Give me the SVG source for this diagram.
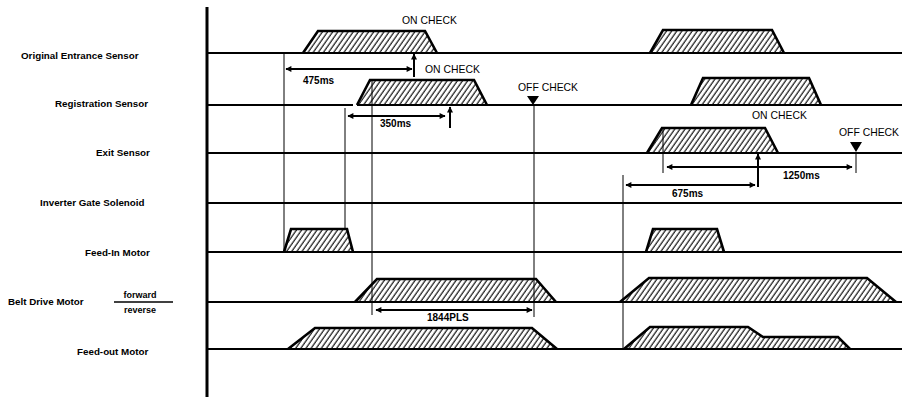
<svg xmlns="http://www.w3.org/2000/svg" width="902" height="397" viewBox="0 0 902 397">
<style>
.lbl{font-family:"Liberation Sans",Arial,sans-serif;font-size:9.8px;font-weight:bold;fill:#000}
.sm{font-family:"Liberation Sans",Arial,sans-serif;font-size:9px;font-weight:bold;fill:#000}
.chk{font-family:"Liberation Sans",Arial,sans-serif;font-size:10.4px;fill:#000}
.ms{font-family:"Liberation Sans",Arial,sans-serif;font-size:10px;font-weight:bold;fill:#000}
.base{stroke:#000;stroke-width:2;fill:none}
.hat{fill:url(#hatch);stroke:none}
.edge{stroke:#000;stroke-width:2.6;fill:none;stroke-linejoin:miter}
.thin{stroke:#000;stroke-width:1;fill:none}
.arr{stroke:#000;stroke-width:2;fill:none}
</style>
<defs>
<pattern id="hatch" width="4.2" height="10" patternUnits="userSpaceOnUse" patternTransform="rotate(35)">
<line x1="1" y1="0" x2="1" y2="10" stroke="#000" stroke-width="1.1"/>
</pattern>
<marker id="ah" viewBox="0 0 10 10" refX="9" refY="5" markerWidth="8" markerHeight="6" markerUnits="userSpaceOnUse" orient="auto-start-reverse">
<path d="M0,0 L10,5 L0,10 Z" fill="#000"/>
</marker>
</defs>
<rect width="902" height="397" fill="#fff"/>
<line x1="207" y1="7" x2="207" y2="397" stroke="#000" stroke-width="3"/>

<g id="original-entrance-sensor">
<text class="lbl" x="21" y="59">Original Entrance Sensor</text>
<polygon class="hat" points="303,53 318,31 425,31 437,53"/>
<polygon class="hat" points="650,53 663,30 772,30 784,53"/>
<line class="base" x1="207" y1="53" x2="902" y2="53"/>
<polyline class="edge" points="303,53 318,31 425,31 437,53"/>
<polyline class="edge" points="650,53 663,30 772,30 784,53"/>
</g>

<g id="registration-sensor">
<text class="lbl" x="55" y="107">Registration Sensor</text>
<polygon class="hat" points="357,105 370,80 474,80 487,105"/>
<polygon class="hat" points="691,105 703,78 809,78 821,105"/>
<line class="base" x1="207" y1="105" x2="353" y2="105"/>
<line class="base" x1="357" y1="105" x2="902" y2="105"/>
<polyline class="edge" points="357,105 370,80 474,80 487,105"/>
<polyline class="edge" points="691,105 703,78 809,78 821,105"/>
</g>

<g id="exit-sensor">
<text class="lbl" x="96" y="156">Exit Sensor</text>
<polygon class="hat" points="647,153 662,128 765,128 778,153"/>
<line class="base" x1="207" y1="153" x2="902" y2="153"/>
<polyline class="edge" points="647,153 662,128 765,128 778,153"/>
</g>

<g id="inverter-gate-solenoid">
<text class="lbl" x="40" y="206">Inverter Gate Solenoid</text>
<line class="base" x1="207" y1="203" x2="902" y2="203"/>
</g>

<g id="feed-in-motor">
<text class="lbl" x="85" y="256">Feed-In Motor</text>
<polygon class="hat" points="284,252 291,229 347,229 353,252"/>
<polygon class="hat" points="646,252 653,229 717,229 724,252"/>
<line class="base" x1="207" y1="252" x2="902" y2="252"/>
<polyline class="edge" points="284,252 291,229 347,229 353,252"/>
<polyline class="edge" points="646,252 653,229 717,229 724,252"/>
</g>

<g id="belt-drive-motor">
<text class="lbl" x="8" y="305">Belt Drive Motor</text>
<text class="sm" x="140" y="298" text-anchor="middle">forward</text>
<line x1="114" y1="302" x2="173" y2="302" stroke="#000" stroke-width="1.5"/>
<text class="sm" x="140" y="313" text-anchor="middle">reverse</text>
<polygon class="hat" points="355,302 377,279 536,279 556,302"/>
<polygon class="hat" points="620,302 649,278 867,278 896,302"/>
<line class="base" x1="207" y1="302" x2="902" y2="302"/>
<polyline class="edge" points="355,302 377,279 536,279 556,302"/>
<polyline class="edge" points="620,302 649,278 867,278 896,302"/>
</g>

<g id="feed-out-motor">
<text class="lbl" x="77" y="355">Feed-out Motor</text>
<polygon class="hat" points="288,349 315,328 532,328 557,349"/>
<polygon class="hat" points="624,349 650,327 748,327 763,337 838,337 850,349"/>
<line class="base" x1="207" y1="349" x2="902" y2="349"/>
<polyline class="edge" points="288,349 315,328 532,328 557,349"/>
<polyline class="edge" points="624,349 650,327 748,327 763,337 838,337 850,349"/>
</g>

<g id="connectors">
<line class="thin" x1="284" y1="53" x2="284" y2="252"/>
<line class="thin" x1="345" y1="108" x2="345" y2="230"/>
<line class="thin" x1="372" y1="80" x2="372" y2="315"/>
<line class="thin" x1="534" y1="105" x2="534" y2="317"/>
<line class="thin" x1="623" y1="175" x2="623" y2="350"/>
<line class="thin" x1="663" y1="128" x2="663" y2="173"/>
<line class="thin" x1="856" y1="152" x2="856" y2="173"/>

<line class="arr" x1="286" y1="69" x2="412" y2="69" marker-start="url(#ah)" marker-end="url(#ah)"/>
<line class="arr" x1="414" y1="77" x2="414" y2="54" marker-end="url(#ah)"/>
<line class="arr" x1="348" y1="116" x2="445" y2="116" marker-start="url(#ah)" marker-end="url(#ah)"/>
<line class="arr" x1="450" y1="128" x2="450" y2="107" marker-end="url(#ah)"/>
<line class="arr" x1="376" y1="310" x2="532" y2="310" marker-start="url(#ah)" marker-end="url(#ah)"/>
<line class="arr" x1="667" y1="167" x2="852" y2="167" marker-start="url(#ah)" marker-end="url(#ah)"/>
<line class="arr" x1="626" y1="185" x2="755" y2="185" marker-start="url(#ah)" marker-end="url(#ah)"/>
<line class="arr" x1="758" y1="187" x2="758" y2="154" marker-end="url(#ah)"/>
<polygon points="527,96 539,96 533,105" fill="#000"/>
<polygon points="850,142 862,142 856,152" fill="#000"/>

<text class="chk" x="402" y="24">ON CHECK</text>
<text class="chk" x="425" y="73">ON CHECK</text>
<text class="chk" x="518" y="91">OFF CHECK</text>
<text class="chk" x="752" y="119">ON CHECK</text>
<text class="chk" x="839" y="136">OFF CHECK</text>
<text class="ms" x="303" y="84">475ms</text>
<text class="ms" x="380" y="127">350ms</text>
<text class="ms" x="427" y="321">1844PLS</text>
<text class="ms" x="783" y="179">1250ms</text>
<text class="ms" x="672" y="197">675ms</text>
</g>
</svg>
